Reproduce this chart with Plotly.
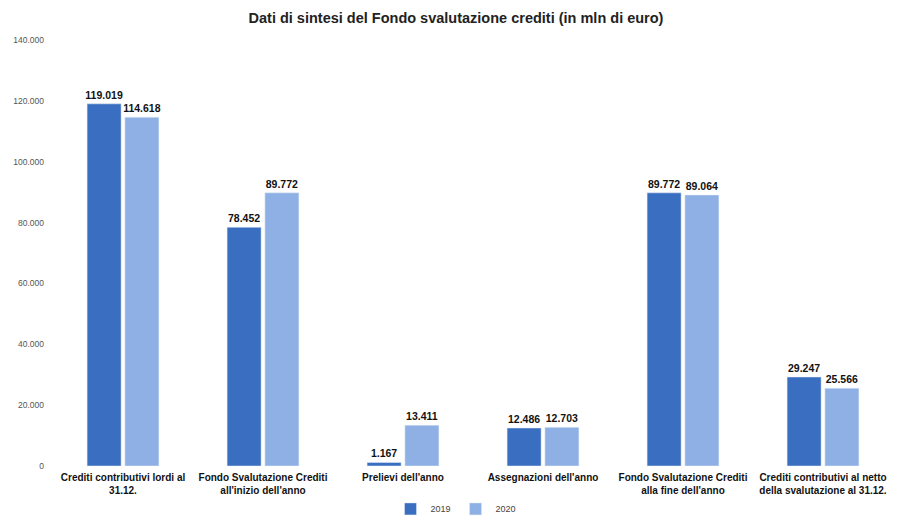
import plotly.graph_objects as go

categories = [
    "Crediti contributivi lordi al<br>31.12.",
    "Fondo Svalutazione Crediti<br>all'inizio dell'anno",
    "Prelievi dell'anno",
    "Assegnazioni dell'anno",
    "Fondo Svalutazione Crediti<br>alla fine dell'anno",
    "Crediti contributivi al netto<br>della svalutazione al 31.12.",
]
values_2019 = [119019, 78452, 1167, 12486, 89772, 29247]
values_2020 = [114618, 89772, 13411, 12703, 89064, 25566]
tick_values = [0, 20000, 40000, 60000, 80000, 100000, 120000, 140000]
tick_labels = ["0", "20.000", "40.000", "60.000", "80.000", "100.000", "120.000", "140.000"]

color_2019 = "#3a6ec0"
color_2020 = "#8fb0e4"

fig = go.Figure()
for name, vals, col in [("2019", values_2019, color_2019), ("2020", values_2020, color_2020)]:
    fig.add_trace(go.Bar(
        x=categories, y=vals, name=name, marker_color=col,
        text=[f"{v:,}".replace(",", ".") for v in vals],
        textposition="outside", cliponaxis=False, constraintext="none",
        textfont=dict(family="Liberation Sans, Arial", size=10.5, color="#111", weight="bold"),
    ))

fig.update_layout(
    width=896, height=508,
    margin=dict(l=45, r=11, t=32, b=50, autoexpand=False),
    paper_bgcolor="white", plot_bgcolor="white",
    barmode="group", bargap=0.46, bargroupgap=0.1,
    title=dict(text="Dati di sintesi del Fondo svalutazione crediti (in mln di euro)",
               x=0.5, xanchor="center", y=0.98, yanchor="middle",
               font=dict(family="Liberation Sans, Arial", size=14.5, color="#222", weight="bold")),
    showlegend=True,
    legend=dict(orientation="h", x=0.5, xanchor="center", xref="container",
                y=0.014, yanchor="middle", yref="container",
                font=dict(family="Liberation Sans, Arial", size=9, color="#444"),
                itemwidth=30, traceorder="normal"),
)
fig.update_yaxes(range=[0, 140000], tickvals=tick_values, ticktext=tick_labels,
                 showgrid=False, zeroline=False, showline=False,
                 tickfont=dict(family="Liberation Sans, Arial", size=8.5, color="#555"),
                 ticklabelstandoff=8)
fig.update_xaxes(showgrid=False, showline=False, ticks="", ticklabelstandoff=4,
                 tickfont=dict(family="Liberation Sans, Arial", size=10, color="#111", weight="bold"))

fig.write_html("out.html")
